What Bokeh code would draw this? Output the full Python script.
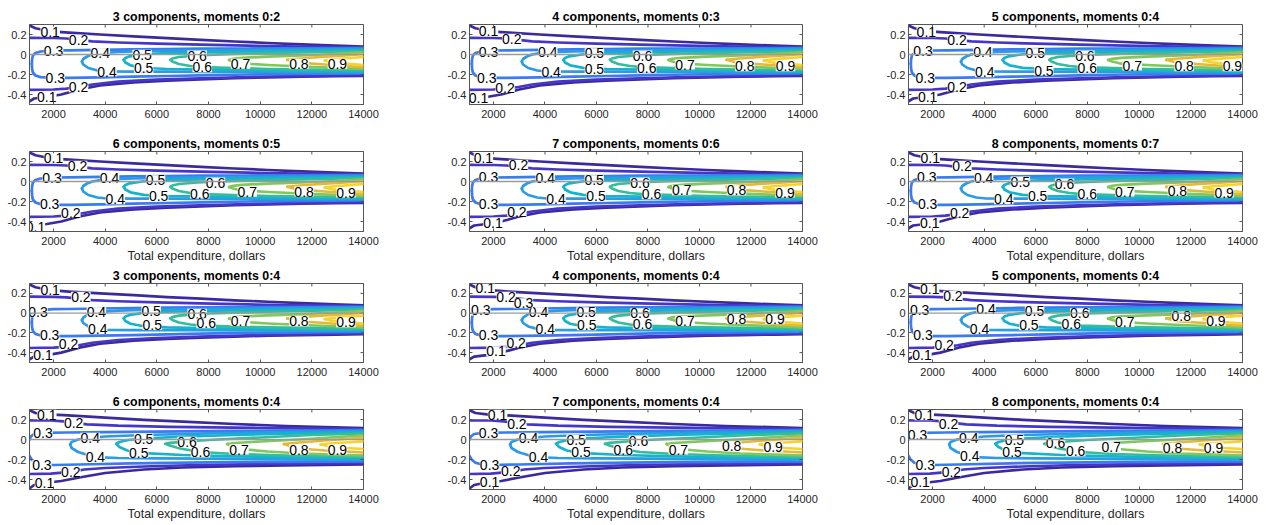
import math
from bokeh.plotting import figure
from bokeh.models import Span, FixedTicker, ColumnDataSource, Range1d
from bokeh.layouts import column, row
from bokeh.embed import file_html
from bokeh.resources import INLINE
from bokeh.core.properties import value

# ---------------- data ----------------
TITLES = [
    "3 components, moments 0:2", "4 components, moments 0:3", "5 components, moments 0:4",
    "6 components, moments 0:5", "7 components, moments 0:6", "8 components, moments 0:7",
    "3 components, moments 0:4", "4 components, moments 0:4", "5 components, moments 0:4",
    "6 components, moments 0:4", "7 components, moments 0:4", "8 components, moments 0:4",
]
VARIANT = ["A"] * 9 + ["B"] * 3
X_LABEL = "Total expenditure, dollars"
X_TICKS = [2000, 4000, 6000, 8000, 10000, 12000, 14000]
Y_TICKS = [-0.4, -0.2, 0, 0.2]
Y_TICK_LABELS = ["-0.4", "-0.2", "0", "0.2"]
X_MIN, X_MAX = 1070, 14000
Y_MIN, Y_MAX = -0.5, 0.3

LEVELS = ["0.1", "0.2", "0.3", "0.4", "0.5", "0.6", "0.7", "0.8", "0.9"]
LEVEL_COLORS = ["#3b2a9e", "#4536c8", "#3a7bef", "#2a9be4", "#16b3cf",
                "#32bd9c", "#80c75c", "#e4b83a", "#f6d42e"]

# Variant A contour branches (upper / lower), one list per level
A_UP_X = [
    [1070, 1300, 1870, 2600, 3800, 5100, 6400, 7700, 9000, 10300, 11600, 12900, 14000],
    [1070, 2000, 2500, 2970, 3500, 4500, 6000, 7700, 9500, 11500, 14000],
    [1160, 1170, 1200, 1300, 1500, 2000, 2600, 3800, 5100, 6400, 7700, 9500, 11500, 14000],
    [3100, 3150, 3300, 3500, 3810, 4500, 5100, 6400, 7700, 9500, 11500, 14000],
    [4716, 4780, 4950, 5430, 6000, 6400, 7700, 9500, 11500, 14000],
    [6527, 6600, 6850, 7560, 8000, 9000, 10300, 11600, 14000],
    [8800, 8950, 9300, 10300, 11600, 12900, 14000],
    [11050, 11300, 11800, 12500, 13300, 14000],
    [12500, 12800, 13300, 14000],
]
A_UP_Y = [
    [0.29, 0.262, 0.232, 0.218, 0.2, 0.182, 0.163, 0.146, 0.13, 0.115, 0.101, 0.089, 0.08],
    [0.167, 0.165, 0.16, 0.147, 0.132, 0.12, 0.108, 0.098, 0.088, 0.078, 0.07],
    [-0.093, -0.05, -0.01, 0.015, 0.03, 0.04, 0.042, 0.047, 0.052, 0.055, 0.058, 0.06, 0.062, 0.063],
    [-0.07, -0.045, -0.02, 0.0, 0.013, 0.025, 0.03, 0.036, 0.041, 0.046, 0.05, 0.055],
    [-0.053, -0.035, -0.018, 0.0, 0.01, 0.014, 0.022, 0.03, 0.037, 0.045],
    [-0.053, -0.04, -0.025, -0.01, -0.004, 0.006, 0.015, 0.022, 0.035],
    [-0.055, -0.043, -0.033, -0.022, -0.01, 0.005, 0.022],
    [-0.053, -0.045, -0.035, -0.022, -0.01, 0.005],
    [-0.06, -0.05, -0.038, -0.025],
]
A_LO_X = [
    [1070, 1250, 1740, 2300, 3000, 3800, 5100, 6400, 7700, 9000, 10300, 11600, 12900, 14000],
    [1070, 2000, 2500, 2970, 3500, 4500, 6000, 7700, 9500, 11500, 14000],
    [1160, 1170, 1200, 1300, 1500, 2070, 2600, 3800, 5100, 6400, 7700, 9500, 11500, 14000],
    [3100, 3150, 3350, 3700, 4070, 5100, 6400, 7700, 9500, 11500, 14000],
    [4716, 4780, 4980, 5490, 6000, 6400, 7700, 9500, 11500, 14000],
    [6527, 6600, 6850, 7300, 7760, 9000, 10300, 11600, 14000],
    [8800, 8950, 9240, 10300, 11600, 12900, 14000],
    [11050, 11300, 11500, 12500, 13300, 14000],
    [12500, 12800, 13300, 14000],
]
A_LO_Y = [
    [-0.468, -0.44, -0.425, -0.4, -0.35, -0.31, -0.28, -0.262, -0.248, -0.237, -0.229, -0.222, -0.217, -0.213],
    [-0.353, -0.35, -0.342, -0.325, -0.3, -0.272, -0.252, -0.238, -0.226, -0.216, -0.206],
    [-0.093, -0.14, -0.18, -0.21, -0.226, -0.233, -0.233, -0.228, -0.222, -0.215, -0.208, -0.2, -0.194, -0.19],
    [-0.07, -0.1, -0.135, -0.16, -0.17, -0.172, -0.172, -0.173, -0.175, -0.177, -0.18],
    [-0.053, -0.08, -0.108, -0.133, -0.14, -0.145, -0.152, -0.158, -0.163, -0.168],
    [-0.053, -0.07, -0.095, -0.115, -0.127, -0.137, -0.145, -0.15, -0.157],
    [-0.055, -0.07, -0.088, -0.105, -0.12, -0.133, -0.145],
    [-0.053, -0.07, -0.082, -0.1, -0.115, -0.127],
    [-0.06, -0.078, -0.092, -0.105],
]

# Variant B contour branches
B_UP_X = [
    [1070, 1300, 1740, 2400, 3200, 4000, 5500, 7000, 9000, 11000, 14000],
    [1070, 1900, 2400, 2780, 3300, 4500, 6500, 9000, 11500, 14000],
    [1070, 1120, 1250, 1590, 2500, 4000, 6000, 9000, 14000],
    [2648, 2700, 2950, 3420, 4000, 5500, 8000, 11000, 14000],
    [4432, 4550, 4900, 5490, 7000, 9000, 11500, 14000],
    [6333, 6500, 7170, 8000, 10000, 12000, 14000],
    [8725, 9000, 10000, 11500, 13000, 14000],
    [10923, 11300, 12000, 13000, 14000],
    [12345, 12700, 13300, 14000],
]
B_UP_Y = [
    [0.293, 0.265, 0.252, 0.243, 0.232, 0.218, 0.197, 0.178, 0.155, 0.135, 0.115],
    [0.19, 0.19, 0.182, 0.167, 0.152, 0.138, 0.127, 0.118, 0.111, 0.105],
    [-0.003, 0.03, 0.055, 0.067, 0.07, 0.074, 0.079, 0.086, 0.095],
    [-0.05, -0.025, 0.0, 0.017, 0.03, 0.045, 0.062, 0.075, 0.085],
    [-0.043, -0.025, -0.005, 0.01, 0.028, 0.045, 0.062, 0.075],
    [-0.043, -0.033, -0.02, -0.005, 0.02, 0.045, 0.062],
    [-0.045, -0.035, -0.02, 0.0, 0.025, 0.042],
    [-0.045, -0.035, -0.02, 0.0, 0.02],
    [-0.05, -0.04, -0.03, -0.018],
]
B_LO_X = [
    [1070, 1250, 1650, 2300, 3000, 4000, 5500, 7000, 9000, 11000, 14000],
    [1070, 1900, 2670, 3200, 4000, 5500, 7500, 10000, 14000],
    [1070, 1150, 1300, 1550, 2000, 3000, 5000, 8000, 11000, 14000],
    [2648, 2700, 2950, 3620, 4500, 6000, 8000, 11000, 14000],
    [4432, 4550, 4850, 5300, 7000, 9000, 11500, 14000],
    [6333, 6500, 6900, 7690, 9000, 11000, 14000],
    [8725, 8900, 9180, 10300, 11600, 12900, 14000],
    [10923, 11200, 11500, 12500, 13300, 14000],
    [12345, 12700, 13300, 14000],
]
B_LO_Y = [
    [-0.49, -0.455, -0.435, -0.415, -0.38, -0.335, -0.3, -0.28, -0.267, -0.258, -0.25],
    [-0.345, -0.342, -0.323, -0.3, -0.285, -0.27, -0.255, -0.245, -0.235],
    [-0.165, -0.2, -0.232, -0.25, -0.255, -0.25, -0.238, -0.228, -0.223, -0.22],
    [-0.05, -0.085, -0.125, -0.177, -0.185, -0.188, -0.192, -0.198, -0.205],
    [-0.043, -0.075, -0.11, -0.133, -0.155, -0.168, -0.18, -0.19],
    [-0.043, -0.06, -0.09, -0.125, -0.145, -0.16, -0.175],
    [-0.045, -0.07, -0.095, -0.12, -0.14, -0.152, -0.16],
    [-0.045, -0.07, -0.09, -0.11, -0.12, -0.13],
    [-0.05, -0.07, -0.085, -0.095],
]

# contour labels, same order in every panel
LABEL_TEXT = ["0.1", "0.2", "0.3", "0.4", "0.5", "0.6", "0.7", "0.8", "0.9",
              "0.4", "0.5", "0.6", "0.3", "0.2", "0.1"]
LABEL_X = [
    [1870, 2970, 2000, 3810, 5430, 7560, 9240, 11500, 12990, 4070, 5490, 7760, 2070, 2970, 1740],
    [1810, 2710, 1810, 4110, 5920, 7790, 9440, 11760, 13340, 4240, 5920, 7950, 1740, 2450, 1420],
    [1760, 2950, 1630, 3950, 5980, 7900, 9730, 11740, 13610, 4020, 6310, 7990, 1720, 2950, 1810],
    [2000, 2930, 1940, 4170, 5950, 8270, 9500, 11700, 13320, 4390, 6070, 7660, 1850, 2670, 1300],
    [1610, 2970, 1810, 4010, 5910, 7690, 9310, 11440, 13320, 4430, 5980, 8140, 1810, 2910, 1980],
    [1910, 3140, 1780, 3980, 5400, 7110, 9440, 11480, 13290, 4760, 6070, 7990, 1810, 3050, 1890],
    [1870, 3060, 1400, 3660, 5780, 7560, 9240, 11500, 13320, 3710, 5820, 7910, 1850, 2580, 1590],
    [1680, 2490, 1510, 3750, 5600, 7690, 9440, 11440, 12930, 4010, 5620, 7790, 1810, 2880, 2100],
    [1890, 2790, 1500, 4070, 5950, 7700, 9440, 11630, 12970, 3820, 5730, 7370, 1630, 2450, 1590],
    [1740, 2780, 1590, 3420, 5490, 7170, 9180, 11500, 12990, 3620, 5300, 7690, 1550, 2670, 1650],
    [2160, 2910, 1810, 3360, 5210, 7630, 9180, 11250, 12860, 3750, 5400, 7040, 1850, 2670, 1850],
    [1680, 2620, 1420, 3400, 5170, 6760, 8920, 11290, 12880, 3440, 5080, 7540, 1720, 2730, 1520],
]
LABEL_Y = [
    [0.23, 0.147, 0.04, 0.013, -0.003, -0.01, -0.093, -0.093, -0.093, -0.17, -0.133, -0.127, -0.233, -0.327, -0.427],
    [0.233, 0.157, 0.03, 0.023, 0.013, -0.01, -0.1, -0.117, -0.117, -0.17, -0.143, -0.133, -0.233, -0.333, -0.433],
    [0.223, 0.15, 0.033, 0.023, 0.013, -0.01, -0.11, -0.117, -0.117, -0.177, -0.16, -0.133, -0.233, -0.32, -0.427],
    [0.233, 0.157, 0.04, 0.033, 0.013, -0.01, -0.103, -0.1, -0.11, -0.177, -0.143, -0.12, -0.22, -0.31, -0.453],
    [0.233, 0.167, 0.047, 0.033, 0.013, -0.01, -0.087, -0.087, -0.11, -0.177, -0.143, -0.127, -0.22, -0.3, -0.41],
    [0.233, 0.157, 0.047, 0.033, 0.0, -0.02, -0.1, -0.093, -0.11, -0.177, -0.143, -0.127, -0.22, -0.31, -0.41],
    [0.237, 0.167, 0.01, 0.01, 0.02, -0.007, -0.08, -0.08, -0.093, -0.157, -0.12, -0.103, -0.223, -0.31, -0.42],
    [0.25, 0.167, 0.027, 0.01, 0.01, 0.0, -0.077, -0.06, -0.06, -0.157, -0.123, -0.113, -0.223, -0.3, -0.387],
    [0.243, 0.177, 0.033, 0.043, 0.02, 0.0, -0.09, -0.033, -0.08, -0.157, -0.123, -0.107, -0.223, -0.323, -0.423],
    [0.25, 0.167, 0.067, 0.017, 0.01, -0.023, -0.1, -0.1, -0.1, -0.177, -0.133, -0.127, -0.257, -0.323, -0.433],
    [0.25, 0.16, 0.067, 0.017, 0.0, -0.01, -0.1, -0.067, -0.077, -0.177, -0.127, -0.1, -0.25, -0.317, -0.423],
    [0.243, 0.16, 0.043, 0.017, 0.0, -0.033, -0.077, -0.083, -0.083, -0.167, -0.123, -0.117, -0.25, -0.323, -0.423],
]
# one extra "0.3" label in panel 8
EXTRA_PANEL = 7
EXTRA_X = [3165]
EXTRA_Y = [0.1]
EXTRA_TEXT = ["0.3"]

# ---------------- drawing ----------------
FONT = "Liberation Sans"
AX_COLOR = "#262626"
FRAME_COLOR = "#555555"

COL_W = [440, 439, 387]
COL_RIGHT = [77, 77, 24]
ROW_H = [127, 138, 120, 140]
ROW_TOP = [24, 24, 17, 24]
ROW_BOTTOM = [23, 34, 23, 36]


def style_axis(ax, standoff):
    ax.axis_line_color = FRAME_COLOR
    ax.axis_line_width = 1
    ax.major_tick_line_color = FRAME_COLOR
    ax.major_tick_in = 3
    ax.major_tick_out = 0
    ax.minor_tick_in = 0
    ax.minor_tick_out = 0
    ax.major_label_text_font = FONT
    ax.major_label_text_color = AX_COLOR
    ax.major_label_text_font_size = "11px"
    ax.major_label_standoff = standoff


def make_panel(i, r, c):
    p = figure(width=COL_W[c], height=ROW_H[r],
               x_range=Range1d(X_MIN, X_MAX), y_range=Range1d(Y_MIN, Y_MAX),
               output_backend="svg", toolbar_location=None,
               min_border_left=29, min_border_right=COL_RIGHT[c],
               min_border_top=ROW_TOP[r], min_border_bottom=ROW_BOTTOM[r],
               title=TITLES[i])
    p.title.text_font = FONT
    p.title.text_font_size = "12.4px"
    p.title.text_font_style = "bold"
    p.title.text_color = "black"
    p.title.align = "center"
    p.title.standoff = 2
    p.xgrid.visible = False
    p.ygrid.visible = False
    p.outline_line_color = FRAME_COLOR
    p.outline_line_width = 1
    p.background_fill_color = "white"
    p.border_fill_color = "white"

    p.xaxis.ticker = FixedTicker(ticks=X_TICKS)
    p.yaxis.ticker = FixedTicker(ticks=Y_TICKS)
    p.yaxis.major_label_overrides = {t: s for t, s in zip(Y_TICKS, Y_TICK_LABELS)}
    style_axis(p.xaxis[0], 5)
    style_axis(p.yaxis[0], 3)
    if r in (1, 3):
        p.xaxis.axis_label = X_LABEL
        p.xaxis.axis_label_text_font = FONT
        p.xaxis.axis_label_text_font_size = "12.4px"
        p.xaxis.axis_label_text_font_style = "normal"
        p.xaxis.axis_label_text_color = AX_COLOR
        p.xaxis.axis_label_standoff = 1

    if VARIANT[i] == "A":
        ux, uy, lx, ly = A_UP_X, A_UP_Y, A_LO_X, A_LO_Y
    else:
        ux, uy, lx, ly = B_UP_X, B_UP_Y, B_LO_X, B_LO_Y
    src = ColumnDataSource(dict(xs=list(ux) + list(lx), ys=list(uy) + list(ly),
                                color=LEVEL_COLORS + LEVEL_COLORS))
    p.multi_line("xs", "ys", line_color="color", line_width=2.7,
                 line_join="round", line_cap="round", source=src)

    p.add_layout(Span(location=0, dimension="width", line_color="#9a9a9a", line_width=1.3))

    # mirrored tick marks on the top and right edges (box on)
    p.scatter(X_TICKS, [Y_MAX] * len(X_TICKS), marker="dash", size=6, angle=math.pi / 2,
              line_color=FRAME_COLOR, line_width=1)
    p.scatter([X_MAX] * len(Y_TICKS), Y_TICKS, marker="dash", size=6,
              line_color=FRAME_COLOR, line_width=1)

    tx = list(LABEL_X[i])
    ty = list(LABEL_Y[i])
    tt = list(LABEL_TEXT)
    if i == EXTRA_PANEL:
        tx += EXTRA_X
        ty += EXTRA_Y
        tt += EXTRA_TEXT
    lsrc = ColumnDataSource(dict(x=tx, y=ty, t=tt))
    p.text("x", "y", text="t", source=lsrc, text_font=value(FONT), text_font_size="14px",
           text_align="center", text_baseline="middle", text_color="black",
           background_fill_color="white", background_fill_alpha=1.0)
    return p


rows = []
for r in range(4):
    figs = [make_panel(r * 3 + c, r, c) for c in range(3)]
    rows.append(row(*figs, spacing=0))
layout = column(*rows, spacing=0)

open("out.html", "w").write(file_html(layout, INLINE))
